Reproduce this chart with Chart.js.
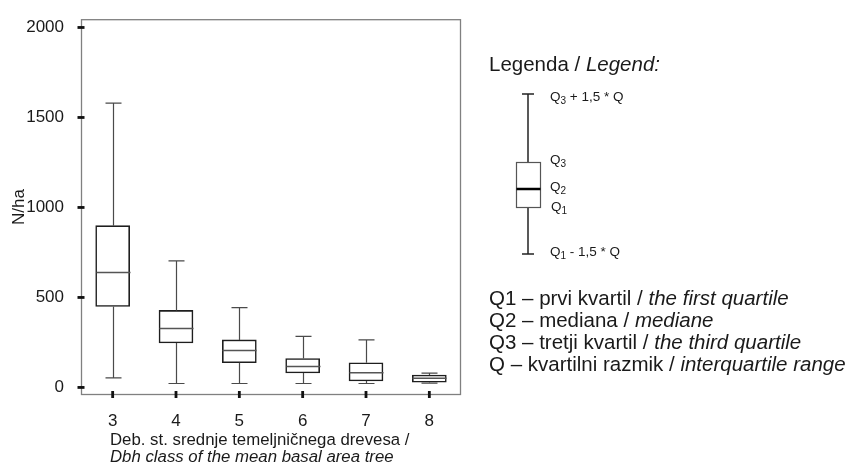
<!DOCTYPE html>
<html>
<head>
<meta charset="utf-8">
<script src="https://cdn.jsdelivr.net/npm/chart.js@4.4.1/dist/chart.umd.min.js"></script>
<style>
  body { margin: 0; background: #fff; font-family: "Liberation Sans", Arial, sans-serif; color: #1a1a1a; }
  #wrap { position: relative; width: 854px; height: 464px; overflow: hidden; }
  #plot { position: absolute; left: 0; top: 0; }
  .t { position: absolute; white-space: nowrap; }
  .axisTitle { font-size: 16.8px; line-height: 17px; }
  .big { font-size: 20.5px; line-height: 20.5px; }
  .small { font-size: 13.5px; line-height: 14px; }
  .small sub { font-size: 10px; vertical-align: -3px; line-height: 0; }
  #legendBox { position: absolute; left: 0; top: 0; }
</style>
</head>
<body>
<div id="wrap">
  <canvas id="plot" width="470" height="464"></canvas>

  <div class="t axisTitle" style="left:110px; top:431px;">Deb. st. srednje temeljničnega drevesa /<br><i>Dbh class of the mean basal area tree</i></div>

  <svg id="legendBox" width="854" height="464">
    <line x1="528" y1="94" x2="528" y2="254" stroke="#222" stroke-width="1.5"/>
    <line x1="522" y1="94" x2="534" y2="94" stroke="#222" stroke-width="1.5"/>
    <line x1="522" y1="254" x2="534" y2="254" stroke="#222" stroke-width="1.5"/>
    <rect x="516.5" y="162.5" width="24" height="45" fill="#fff" stroke="#555" stroke-width="1.2"/>
    <line x1="516.5" y1="189" x2="540.5" y2="189" stroke="#000" stroke-width="2.5"/>
  </svg>

  <div class="t big" style="left:489px; top:54px;">Legenda / <i>Legend:</i></div>
  <div class="t small" style="left:550px; top:90px;">Q<sub>3</sub> + 1,5 * Q</div>
  <div class="t small" style="left:550px; top:153px;">Q<sub>3</sub></div>
  <div class="t small" style="left:550px; top:180px;">Q<sub>2</sub></div>
  <div class="t small" style="left:551px; top:200px;">Q<sub>1</sub></div>
  <div class="t small" style="left:550px; top:245px;">Q<sub>1</sub> - 1,5 * Q</div>

  <div class="t big" style="left:489px; top:288px;">Q1 – prvi kvartil / <i>the first quartile</i></div>
  <div class="t big" style="left:489px; top:310px;">Q2 – mediana / <i>mediane</i></div>
  <div class="t big" style="left:489px; top:332px;">Q3 – tretji kvartil / <i>the third quartile</i></div>
  <div class="t big" style="left:489px; top:354px;">Q – kvartilni razmik / <i>interquartile range</i></div>
</div>

<script>
// Dbh classes and box plot statistics (N/ha)
const categories = ['3', '4', '5', '6', '7', '8'];
const whiskerLow = [53, 22, 22, 22, 22, 24];
const quartile1 = [450, 247, 137, 80, 36, 29];
const medians = [639, 327, 205, 117, 82, 51];
const quartile3 = [899, 428, 264, 161, 137, 69];
const whiskerHigh = [1580, 703, 443, 284, 264, 80];
const yTicks = [0, 500, 1000, 1500, 2000];

// whiskers, caps and median lines drawn on top of the floating bars
const boxParts = {
    id: 'boxParts',
    afterDatasetsDraw(chart) {
        const ctx = chart.ctx;
        const y = chart.scales.y;
        const bars = chart.getDatasetMeta(0).data;
        ctx.save();
        bars.forEach(function(bar, i) {
            const x = Math.round(bar.x) + 0.5;
            const half = bar.width / 2;
            const yHi = y.getPixelForValue(whiskerHigh[i]);
            const yLo = y.getPixelForValue(whiskerLow[i]);
            ctx.strokeStyle = '#4a4a4a';
            ctx.lineWidth = 1.2;
            ctx.beginPath();
            ctx.moveTo(x, y.getPixelForValue(quartile3[i]));
            ctx.lineTo(x, yHi);
            ctx.moveTo(x, y.getPixelForValue(quartile1[i]));
            ctx.lineTo(x, yLo);
            ctx.moveTo(x - 8, yHi);
            ctx.lineTo(x + 8, yHi);
            ctx.moveTo(x - 8, yLo);
            ctx.lineTo(x + 8, yLo);
            ctx.stroke();

            const yMed = y.getPixelForValue(medians[i]);
            ctx.strokeStyle = '#555';
            ctx.lineWidth = 1.5;
            ctx.beginPath();
            ctx.moveTo(x - half, yMed);
            ctx.lineTo(x + half, yMed);
            ctx.stroke();
        });
        ctx.restore();
    }
};

// frame round the plot and the short thick tick marks crossing the axes
const frameTicks = {
    id: 'frameTicks',
    afterDraw(chart) {
        const ctx = chart.ctx;
        const a = chart.chartArea;
        const x = chart.scales.x;
        const y = chart.scales.y;
        ctx.save();
        ctx.strokeStyle = '#808080';
        ctx.lineWidth = 1.3;
        ctx.strokeRect(a.left + 0.5, a.top + 0.5, a.right - a.left - 1, a.bottom - a.top - 1);
        ctx.fillStyle = '#111';
        y.ticks.forEach(function(t) {
            const py = y.getPixelForValue(t.value);
            ctx.fillRect(a.left - 3.5, py - 1.4, 7, 2.8);
        });
        categories.forEach(function(c, i) {
            const px = x.getPixelForTick(i);
            ctx.fillRect(px - 1.4, a.bottom - 4, 2.8, 7);
        });
        ctx.restore();
    }
};

Chart.defaults.font.family = '"Liberation Sans", Arial, sans-serif';
Chart.defaults.font.size = 17;
Chart.defaults.color = '#1a1a1a';

new Chart(document.getElementById('plot'), {
    type: 'bar',
    data: {
        labels: categories,
        datasets: [{
            data: categories.map(function(c, i) { return [quartile1[i], quartile3[i]]; }),
            backgroundColor: '#fff',
            borderColor: '#1e1e1e',
            borderWidth: 1.6,
            borderSkipped: false,
            barThickness: 34
        }]
    },
    options: {
        responsive: false,
        animation: false,
        devicePixelRatio: 1,
        layout: { padding: { top: 15, right: 9, bottom: 0, left: 0 } },
        plugins: {
            legend: { display: false },
            tooltip: { enabled: false }
        },
        scales: {
            x: {
                offset: true,
                grid: { display: false },
                border: { display: false },
                ticks: { padding: 8 },
                afterFit: function(s) { s.height = 69; }
            },
            y: {
                min: -42,
                max: 2046,
                grid: { display: false },
                border: { display: false },
                ticks: {
                    padding: 9,
                    callback: function(v) { return String(v); }
                },
                afterBuildTicks: function(s) { s.ticks = yTicks.map(function(v) { return { value: v }; }); },
                afterFit: function(s) { s.width = 81; },
                title: { display: true, text: 'N/ha', padding: { top: 9, bottom: 0 } }
            }
        }
    },
    plugins: [boxParts, frameTicks]
});
</script>
</body>
</html>
